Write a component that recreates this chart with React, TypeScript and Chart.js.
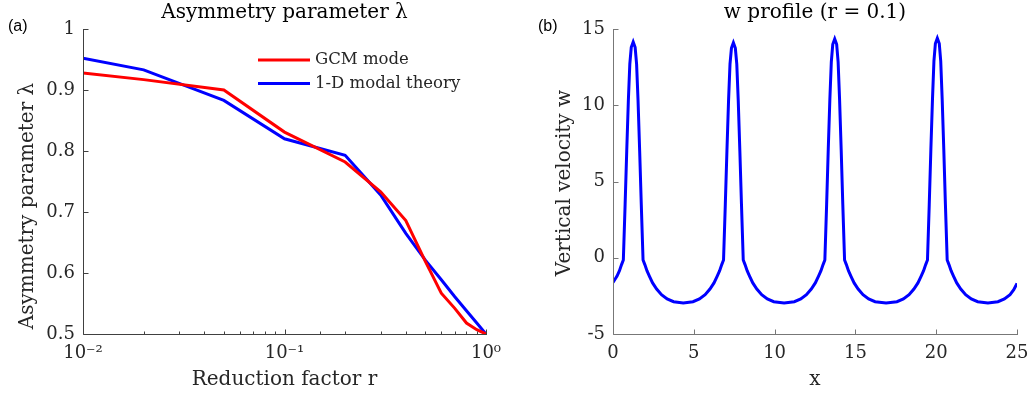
import React, { useEffect, useRef } from 'react';
import { Chart, registerables } from 'chart.js';

Chart.register(...registerables);

// ---------- Panel (a): asymmetry parameter ----------
const reductionFactor = [0.01, 0.02, 0.05, 0.1, 0.2, 0.3, 0.4, 0.5, 0.6, 0.7, 0.8, 0.9, 1.0];
const gcmMode = [0.928, 0.917, 0.9, 0.831, 0.782, 0.733, 0.686, 0.619, 0.567, 0.542, 0.518, 0.507, 0.5];
const modalTheory = [0.952, 0.933, 0.883, 0.82, 0.793, 0.728, 0.665, 0.621, 0.589, 0.561, 0.538, 0.518, 0.5];
const seriesNames = ['GCM mode', '1-D modal theory'];
const logTickLabels: Record<string, string> = { '-2': '10⁻²', '-1': '10⁻¹', '0': '10⁰' };

// ---------- Panel (b): w profile ----------
const profileX = [
  0, 0.25, 0.4, 0.53,
  0.64, 0.75, 0.85, 0.95, 1.04, 1.13, 1.25, 1.37, 1.46, 1.55, 1.65, 1.75, 1.86,
  1.97, 2.1, 2.25, 2.45, 2.7, 3.0, 3.35, 3.75, 4.35, 4.95, 5.35, 5.7, 6.0, 6.25, 6.45, 6.6, 6.73,
  6.84, 6.95, 7.05, 7.15, 7.24, 7.33, 7.45, 7.57, 7.66, 7.75, 7.85, 7.95, 8.06,
  8.17, 8.3, 8.45, 8.65, 8.9, 9.2, 9.55, 9.95, 10.59, 11.22, 11.62, 11.97, 12.27, 12.52, 12.72, 12.87, 13.0,
  13.11, 13.22, 13.32, 13.42, 13.51, 13.6, 13.72, 13.84, 13.93, 14.02, 14.12, 14.22, 14.33,
  14.44, 14.57, 14.72, 14.92, 15.17, 15.47, 15.82, 16.22, 16.9, 17.57, 17.97, 18.32, 18.62, 18.87, 19.07, 19.22, 19.35,
  19.46, 19.57, 19.67, 19.77, 19.86, 19.95, 20.07, 20.19, 20.28, 20.37, 20.47, 20.57, 20.68,
  20.79, 20.92, 21.07, 21.27, 21.52, 21.82, 22.17, 22.57, 23.2, 23.82, 24.22, 24.57, 24.8, 25.0,
];
const profileW = [
  -1.62, -1.2, -0.85, -0.45,
  -0.15, 3.5, 7.0, 10.3, 12.7, 13.8, 14.15, 13.8, 12.7, 10.3, 7.0, 3.5, -0.15,
  -0.45, -0.85, -1.2, -1.65, -2.05, -2.42, -2.7, -2.88, -2.96, -2.88, -2.7, -2.42, -2.05, -1.65, -1.2, -0.85, -0.45,
  -0.15, 3.5, 7.0, 10.3, 12.7, 13.75, 14.1, 13.75, 12.7, 10.3, 7.0, 3.5, -0.15,
  -0.45, -0.85, -1.2, -1.65, -2.05, -2.42, -2.7, -2.88, -2.96, -2.88, -2.7, -2.42, -2.05, -1.65, -1.2, -0.85, -0.45,
  -0.15, 3.5, 7.1, 10.4, 12.85, 14.0, 14.35, 14.0, 12.85, 10.4, 7.1, 3.5, -0.15,
  -0.45, -0.85, -1.2, -1.65, -2.05, -2.42, -2.7, -2.88, -2.96, -2.88, -2.7, -2.42, -2.05, -1.65, -1.2, -0.85, -0.45,
  -0.15, 3.5, 7.1, 10.4, 12.9, 14.05, 14.4, 14.05, 12.9, 10.4, 7.1, 3.5, -0.15,
  -0.45, -0.85, -1.2, -1.65, -2.05, -2.42, -2.7, -2.88, -2.96, -2.88, -2.7, -2.42, -2.1, -1.68,
];

const SERIF = '"DejaVu Serif", serif';
const TEXT = '#262626';

const isPow10 = (v: number) => Math.abs(Math.log10(v) - Math.round(Math.log10(v))) < 1e-9;

type Decor = {
  title: string;
  panel: string;
  panelX: number;
  axisColor: string;
  logX?: boolean;
  yLabel: { text: string; x: number; y: number };
  legend?: { x: number; y: number; lineLen: number; gap: number; rowH: number };
};

function makeDecor(d: Decor) {
  return {
    id: 'decor',
    afterDraw(chart: any) {
      const { ctx, chartArea: a, scales } = chart;
      const xs = scales.x;
      const ys = scales.y;
      ctx.save();
      ctx.strokeStyle = d.axisColor;
      ctx.lineWidth = 1;
      const L = Math.round(a.left) + 0.5;
      const B = Math.round(a.bottom) + 0.5;
      ctx.beginPath();
      ctx.moveTo(L, Math.round(a.top));
      ctx.lineTo(L, B);
      ctx.lineTo(Math.round(a.right) + 1, B);
      ctx.stroke();
      xs.ticks.forEach((t: any) => {
        const px = Math.round(xs.getPixelForValue(t.value)) + 0.5;
        const len = d.logX && !isPow10(t.value) ? 3 : 5;
        ctx.beginPath();
        ctx.moveTo(px, B);
        ctx.lineTo(px, B - len);
        ctx.stroke();
      });
      ys.ticks.forEach((t: any) => {
        const py = Math.round(ys.getPixelForValue(t.value)) + 0.5;
        ctx.beginPath();
        ctx.moveTo(L, py);
        ctx.lineTo(L + 5, py);
        ctx.stroke();
      });
      // chart title
      ctx.fillStyle = '#000';
      ctx.font = `20px ${SERIF}`;
      ctx.textAlign = 'center';
      ctx.textBaseline = 'alphabetic';
      ctx.fillText(d.title, (a.left + a.right) / 2, 18);
      // y-axis label
      ctx.save();
      ctx.fillStyle = TEXT;
      ctx.translate(d.yLabel.x, d.yLabel.y);
      ctx.rotate(-Math.PI / 2);
      ctx.textBaseline = 'middle';
      ctx.textAlign = 'center';
      ctx.fillText(d.yLabel.text, 0, 0);
      ctx.restore();
      // panel letter
      ctx.fillStyle = '#000';
      ctx.font = '16px "Liberation Sans", Arial, sans-serif';
      ctx.textAlign = 'left';
      ctx.textBaseline = 'alphabetic';
      ctx.fillText(d.panel, d.panelX, 31);
      // legend
      if (d.legend) {
        const lg = d.legend;
        chart.data.datasets.forEach((ds: any, i: number) => {
          const y = lg.y + i * lg.rowH;
          ctx.strokeStyle = ds.borderColor;
          ctx.lineWidth = 3;
          ctx.beginPath();
          ctx.moveTo(lg.x, y);
          ctx.lineTo(lg.x + lg.lineLen, y);
          ctx.stroke();
          ctx.fillStyle = TEXT;
          ctx.font = `16.5px ${SERIF}`;
          ctx.textBaseline = 'middle';
          ctx.fillText(ds.label, lg.x + lg.lineLen + lg.gap, y);
        });
      }
      ctx.restore();
    },
  };
}

const tickFont = { family: SERIF, size: 18 };
const titleFont = { family: SERIF, size: 20 };

export default function App() {
  const leftRef = useRef<HTMLCanvasElement>(null);
  const rightRef = useRef<HTMLCanvasElement>(null);

  useEffect(() => {
    const c1 = new Chart(leftRef.current as HTMLCanvasElement, {
      type: 'line',
      data: {
        datasets: [
          {
            label: seriesNames[0],
            data: reductionFactor.map((r, i) => ({ x: r, y: gcmMode[i] })),
            borderColor: '#ff0000',
            borderWidth: 3,
            pointRadius: 0,
            tension: 0,
          },
          {
            label: seriesNames[1],
            data: reductionFactor.map((r, i) => ({ x: r, y: modalTheory[i] })),
            borderColor: '#0000ff',
            borderWidth: 3,
            pointRadius: 0,
            tension: 0,
          },
        ],
      },
      options: {
        responsive: false,
        animation: false,
        devicePixelRatio: 1,
        layout: { padding: { left: 0, top: 29, right: 34, bottom: 0 } },
        plugins: { legend: { display: false }, tooltip: { enabled: false } },
        scales: {
          x: {
            type: 'logarithmic',
            min: 0.01,
            max: 1,
            grid: { display: false, drawTicks: false },
            border: { display: false },
            ticks: {
              autoSkip: false,
              maxRotation: 0,
              padding: 9,
              color: TEXT,
              font: tickFont,
              callback: (v: any) => {
                const n = Number(v);
                if (!isPow10(n)) return '';
                return logTickLabels[String(Math.round(Math.log10(n)))] ?? '';
              },
            },
            title: { display: true, text: 'Reduction factor r', color: TEXT, font: titleFont, padding: { top: 0, bottom: 6 } },
            afterFit: (s: any) => {
              s.height = 64;
            },
          },
          y: {
            min: 0.5,
            max: 1,
            grid: { display: false, drawTicks: false },
            border: { display: false },
            ticks: {
              stepSize: 0.1,
              padding: 8,
              color: TEXT,
              font: tickFont,
              callback: (v: any) => String(Math.round(Number(v) * 10) / 10),
            },
            title: { display: false },
            afterFit: (s: any) => {
              s.width = 83;
            },
          },
        },
      } as any,
      plugins: [
        makeDecor({
          title: 'Asymmetry parameter λ',
          panel: '(a)',
          panelX: 8,
          axisColor: '#404040',
          logX: true,
          yLabel: { text: 'Asymmetry parameter λ', x: 28, y: 206 },
          legend: { x: 258, y: 60, lineLen: 52, gap: 5, rowH: 23.5 },
        }),
      ],
    });

    const c2 = new Chart(rightRef.current as HTMLCanvasElement, {
      type: 'line',
      data: {
        datasets: [
          {
            label: 'w',
            data: profileX.map((x, i) => ({ x, y: profileW[i] })),
            borderColor: '#0000ff',
            borderWidth: 3,
            pointRadius: 0,
            tension: 0,
          },
        ],
      },
      options: {
        responsive: false,
        animation: false,
        devicePixelRatio: 1,
        layout: { padding: { left: 0, top: 29, right: 33, bottom: 0 } },
        plugins: { legend: { display: false }, tooltip: { enabled: false } },
        scales: {
          x: {
            type: 'linear',
            min: 0,
            max: 25,
            grid: { display: false, drawTicks: false },
            border: { display: false },
            ticks: { stepSize: 5, autoSkip: false, maxRotation: 0, padding: 9, color: TEXT, font: tickFont },
            title: { display: true, text: 'x', color: TEXT, font: titleFont, padding: { top: 0, bottom: 6 } },
            afterFit: (s: any) => {
              s.height = 64;
            },
          },
          y: {
            min: -5,
            max: 15,
            grid: { display: false, drawTicks: false },
            border: { display: false },
            ticks: { stepSize: 5, padding: 8, color: TEXT, font: tickFont },
            title: { display: false },
            afterFit: (s: any) => {
              s.width = 93;
            },
          },
        },
      } as any,
      plugins: [
        makeDecor({
          title: 'w profile (r = 0.1)',
          panel: '(b)',
          panelX: 18,
          axisColor: '#777777',
          yLabel: { text: 'Vertical velocity w', x: 45, y: 183 },
        }),
      ],
    });

    return () => {
      c1.destroy();
      c2.destroy();
    };
  }, []);

  return (
    <div
      style={{
        position: 'fixed',
        left: 0,
        top: 0,
        width: 1029,
        height: 398,
        background: '#ffffff',
        overflow: 'hidden',
      }}
    >
      <canvas
        ref={leftRef}
        width={520}
        height={398}
        style={{ position: 'absolute', left: 0, top: 0, width: 520, height: 398 }}
      />
      <canvas
        ref={rightRef}
        width={530}
        height={398}
        style={{ position: 'absolute', left: 520, top: 0, width: 530, height: 398 }}
      />
    </div>
  );
}
